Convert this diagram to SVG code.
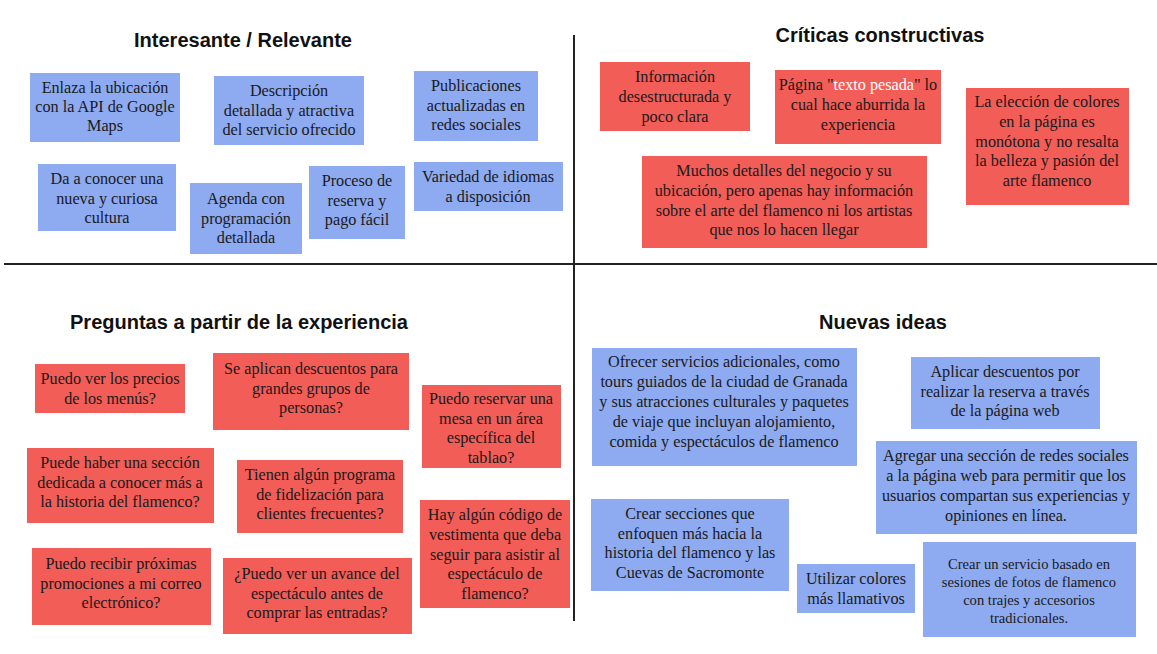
<svg xmlns="http://www.w3.org/2000/svg" width="1157" height="654" viewBox="0 0 1157 654">
<style>
.title{font-family:"Liberation Sans",Arial,sans-serif;font-weight:bold;font-size:20px;fill:#111;text-anchor:middle}
.b{fill:#8eaaf1}
.r{fill:#f35d58}
.t{font-family:"Liberation Serif","Times New Roman",serif;font-size:16.2px;fill:#1a1a1a;text-anchor:middle}
.s{font-size:14.6px}
.w{fill:#ffffff}
.ln{stroke:#222;stroke-width:2;fill:none}
</style>
<rect width="1157" height="654" fill="#ffffff"/>
<g id="connectors">
<line class="ln" x1="574" y1="35" x2="574" y2="621"/>
<line class="ln" x1="4" y1="264" x2="1157" y2="264"/>
</g>
<g id="titles">
<text class="title" x="243" y="47">Interesante / Relevante</text>
<text class="title" x="880" y="42">Críticas constructivas</text>
<text class="title" x="239" y="329">Preguntas a partir de la experiencia</text>
<text class="title" x="883" y="329">Nuevas ideas</text>
</g>
<g id="n1"><rect class="b" x="30" y="73" width="150" height="69"/>
<text class="t" x="105" y="93">Enlaza la ubicación</text><text class="t" x="105" y="112">con la API de Google</text><text class="t" x="105" y="131">Maps</text></g>
<g id="n2"><rect class="b" x="214" y="76" width="150" height="69"/>
<text class="t" x="289" y="96">Descripción</text><text class="t" x="289" y="116">detallada y atractiva</text><text class="t" x="289" y="135">del servicio ofrecido</text></g>
<g id="n3"><rect class="b" x="414" y="71" width="124" height="70"/>
<text class="t" x="476" y="91">Publicaciones</text><text class="t" x="476" y="111">actualizadas en</text><text class="t" x="476" y="130">redes sociales</text></g>
<g id="n4"><rect class="b" x="38" y="164" width="138" height="67"/>
<text class="t" x="107" y="184">Da a conocer una</text><text class="t" x="107" y="204">nueva y curiosa</text><text class="t" x="107" y="223">cultura</text></g>
<g id="n5"><rect class="b" x="190" y="183" width="112" height="71"/>
<text class="t" x="246" y="204">Agenda con</text><text class="t" x="246" y="224">programación</text><text class="t" x="246" y="243">detallada</text></g>
<g id="n6"><rect class="b" x="309" y="166" width="96" height="73"/>
<text class="t" x="357" y="186">Proceso de</text><text class="t" x="357" y="206">reserva y</text><text class="t" x="357" y="225">pago fácil</text></g>
<g id="n7"><rect class="b" x="414" y="162" width="149" height="49"/>
<text class="t" x="488" y="182">Variedad de idiomas</text><text class="t" x="488" y="202">a disposición</text></g>
<g id="n8"><rect class="r" x="600" y="62" width="150" height="69"/>
<text class="t" x="675" y="82">Información</text><text class="t" x="675" y="102">desestructurada y</text><text class="t" x="675" y="122">poco clara</text></g>
<g id="n9"><rect class="r" x="775" y="70" width="166" height="74"/>
<text class="t" x="858" y="90">Página "<tspan class="w">texto pesada</tspan>" lo</text><text class="t" x="858" y="110">cual hace aburrida la</text><text class="t" x="858" y="130">experiencia</text></g>
<g id="n10"><rect class="r" x="966" y="88" width="163" height="117"/>
<text class="t" x="1047" y="107">La elección de colores</text><text class="t" x="1047" y="127">en la página es</text><text class="t" x="1047" y="147">monótona y no resalta</text><text class="t" x="1047" y="166">la belleza y pasión del</text><text class="t" x="1047" y="186">arte flamenco</text></g>
<g id="n11"><rect class="r" x="642" y="156" width="285" height="92"/>
<text class="t" x="784" y="176">Muchos detalles del negocio y su</text><text class="t" x="784" y="196">ubicación, pero apenas  hay información</text><text class="t" x="784" y="216">sobre el arte del flamenco ni los artistas</text><text class="t" x="784" y="235">que nos lo hacen llegar</text></g>
<g id="n12"><rect class="r" x="35" y="364" width="150" height="49"/>
<text class="t" x="110" y="384">Puedo ver los precios</text><text class="t" x="110" y="404">de los menús?</text></g>
<g id="n13"><rect class="r" x="213" y="353" width="196" height="77"/>
<text class="t" x="311" y="374">Se aplican descuentos para</text><text class="t" x="311" y="394">grandes grupos de</text><text class="t" x="311" y="413">personas?</text></g>
<g id="n14"><rect class="r" x="422" y="385" width="139" height="83"/>
<text class="t" x="491" y="404">Puedo reservar una</text><text class="t" x="491" y="424">mesa en un área</text><text class="t" x="491" y="443">específica del</text><text class="t" x="491" y="463">tablao?</text></g>
<g id="n15"><rect class="r" x="27" y="448" width="187" height="75"/>
<text class="t" x="120" y="468">Puede haber una sección</text><text class="t" x="120" y="488">dedicada a conocer más a</text><text class="t" x="120" y="507">la historia del flamenco?</text></g>
<g id="n16"><rect class="r" x="237" y="460" width="166" height="73"/>
<text class="t" x="320" y="480">Tienen algún programa</text><text class="t" x="320" y="500">de fidelización para</text><text class="t" x="320" y="519">clientes frecuentes?</text></g>
<g id="n17"><rect class="r" x="420" y="500" width="150" height="108"/>
<text class="t" x="495" y="520">Hay algún código de</text><text class="t" x="495" y="540">vestimenta que deba</text><text class="t" x="495" y="560">seguir para asistir al</text><text class="t" x="495" y="579">espectáculo de</text><text class="t" x="495" y="599">flamenco?</text></g>
<g id="n18"><rect class="r" x="32" y="548" width="179" height="77"/>
<text class="t" x="121" y="569">Puedo recibir próximas</text><text class="t" x="121" y="589">promociones a mi correo</text><text class="t" x="121" y="608">electrónico?</text></g>
<g id="n19"><rect class="r" x="223" y="558" width="189" height="76"/>
<text class="t" x="317" y="579">¿Puedo ver un avance del</text><text class="t" x="317" y="599">espectáculo antes de</text><text class="t" x="317" y="618">comprar las entradas?</text></g>
<g id="n20"><rect class="b" x="592" y="348" width="265" height="118"/>
<text class="t" x="724" y="367">Ofrecer servicios adicionales, como</text><text class="t" x="724" y="387">tours guiados de la ciudad de Granada</text><text class="t" x="724" y="407">y sus atracciones culturales y paquetes</text><text class="t" x="724" y="427">de viaje que incluyan alojamiento,</text><text class="t" x="724" y="447">comida y espectáculos de flamenco</text></g>
<g id="n21"><rect class="b" x="911" y="357" width="189" height="72"/>
<text class="t" x="1005" y="377">Aplicar descuentos por</text><text class="t" x="1005" y="397">realizar la reserva a través</text><text class="t" x="1005" y="416">de la página web</text></g>
<g id="n22"><rect class="b" x="876" y="441" width="261" height="93"/>
<text class="t" x="1006" y="461">Agregar una sección de redes sociales</text><text class="t" x="1006" y="481">a la página web para permitir que los</text><text class="t" x="1006" y="501">usuarios compartan sus experiencias y</text><text class="t" x="1006" y="521">opiniones en línea.</text></g>
<g id="n23"><rect class="b" x="591" y="499" width="198" height="92"/>
<text class="t" x="690" y="519">Crear secciones que</text><text class="t" x="690" y="539">enfoquen más hacia la</text><text class="t" x="690" y="558">historia del flamenco y las</text><text class="t" x="690" y="578">Cuevas de Sacromonte</text></g>
<g id="n24"><rect class="b" x="797" y="564" width="118" height="49"/>
<text class="t" x="856" y="584">Utilizar colores</text><text class="t" x="856" y="604">más llamativos</text></g>
<g id="n25"><rect class="b" x="923" y="542" width="213" height="95"/>
<text class="t s" x="1029" y="569">Crear un servicio basado en</text><text class="t s" x="1029" y="587">sesiones de fotos de flamenco</text><text class="t s" x="1029" y="605">con trajes y accesorios</text><text class="t s" x="1029" y="623">tradicionales.</text></g>
</svg>
